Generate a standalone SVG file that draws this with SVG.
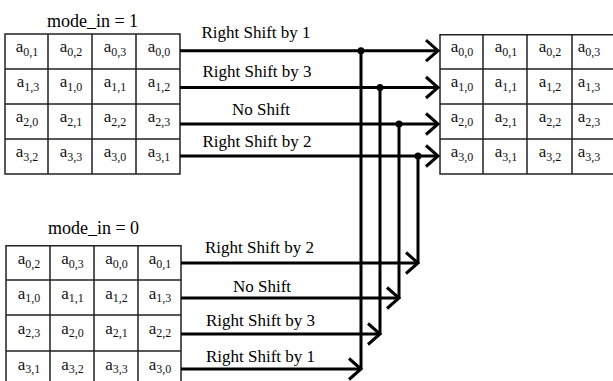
<svg xmlns="http://www.w3.org/2000/svg" width="613" height="381" viewBox="0 0 613 381">
<defs>
<style>
.bg{fill:#fff}
.grid{fill:none;stroke:#222;stroke-width:1.5}
.cell{font-family:"Liberation Serif","Times New Roman",serif;font-size:17px;fill:#111;text-anchor:middle}
.sub{font-size:12px}
.title{font-family:"Liberation Serif","Times New Roman",serif;font-size:18px;fill:#000;text-anchor:middle}
.lbl{font-family:"Liberation Serif","Times New Roman",serif;font-size:17px;fill:#000;text-anchor:middle}
.wire{fill:none;stroke:#000;stroke-width:3}
.arrow{fill:none;stroke:#000;stroke-width:3;marker-end:url(#chev)}
.dot{fill:#000}
</style>
<marker id="chev" markerUnits="userSpaceOnUse" markerWidth="20" markerHeight="28" viewBox="-4 -14 20 28" refX="12" refY="0" orient="auto">
<path d="M0,-10.5 L12,0 L0,10.5" fill="none" stroke="#000" stroke-width="3"/>
</marker>
</defs>
<rect class="bg" x="0" y="0" width="613" height="381"/>

<g id="title1"><text class="title" x="92.5" y="27">mode_in = 1</text></g>
<g id="title0"><text class="title" x="93.5" y="234">mode_in = 0</text></g>

<g id="matrix-in1">
<path class="grid" d="M5,34H180V174H5Z M5,69H180 M5,104H180 M5,139H180 M48,34V174 M92,34V174 M136,34V174"/>
<text class="cell" x="27" y="52">a<tspan class="sub" dy="3.5">0,1</tspan></text>
<text class="cell" x="71" y="52">a<tspan class="sub" dy="3.5">0,2</tspan></text>
<text class="cell" x="115" y="52">a<tspan class="sub" dy="3.5">0,3</tspan></text>
<text class="cell" x="159" y="52">a<tspan class="sub" dy="3.5">0,0</tspan></text>
<text class="cell" x="28" y="87">a<tspan class="sub" dy="3.5">1,3</tspan></text>
<text class="cell" x="71" y="87">a<tspan class="sub" dy="3.5">1,0</tspan></text>
<text class="cell" x="115" y="87">a<tspan class="sub" dy="3.5">1,1</tspan></text>
<text class="cell" x="159" y="87">a<tspan class="sub" dy="3.5">1,2</tspan></text>
<text class="cell" x="27" y="122">a<tspan class="sub" dy="3.5">2,0</tspan></text>
<text class="cell" x="71" y="122">a<tspan class="sub" dy="3.5">2,1</tspan></text>
<text class="cell" x="115" y="122">a<tspan class="sub" dy="3.5">2,2</tspan></text>
<text class="cell" x="159" y="122">a<tspan class="sub" dy="3.5">2,3</tspan></text>
<text class="cell" x="27" y="157">a<tspan class="sub" dy="3.5">3,2</tspan></text>
<text class="cell" x="71" y="157">a<tspan class="sub" dy="3.5">3,3</tspan></text>
<text class="cell" x="115" y="157">a<tspan class="sub" dy="3.5">3,0</tspan></text>
<text class="cell" x="159" y="157">a<tspan class="sub" dy="3.5">3,1</tspan></text>
</g>

<g id="matrix-in0">
<path class="grid" d="M6,245.7H181V390H6Z M6,280H181 M6,315H181 M6,351H181 M50,245.7V390 M94,245.7V390 M138,245.7V390"/>
<text class="cell" x="29" y="264">a<tspan class="sub" dy="3.5">0,2</tspan></text>
<text class="cell" x="72.5" y="264">a<tspan class="sub" dy="3.5">0,3</tspan></text>
<text class="cell" x="116.5" y="264">a<tspan class="sub" dy="3.5">0,0</tspan></text>
<text class="cell" x="160" y="264">a<tspan class="sub" dy="3.5">0,1</tspan></text>
<text class="cell" x="29" y="298.5">a<tspan class="sub" dy="3.5">1,0</tspan></text>
<text class="cell" x="72.5" y="298.5">a<tspan class="sub" dy="3.5">1,1</tspan></text>
<text class="cell" x="116.5" y="298.5">a<tspan class="sub" dy="3.5">1,2</tspan></text>
<text class="cell" x="160" y="298.5">a<tspan class="sub" dy="3.5">1,3</tspan></text>
<text class="cell" x="29" y="333.5">a<tspan class="sub" dy="3.5">2,3</tspan></text>
<text class="cell" x="72.5" y="333.5">a<tspan class="sub" dy="3.5">2,0</tspan></text>
<text class="cell" x="116.5" y="333.5">a<tspan class="sub" dy="3.5">2,1</tspan></text>
<text class="cell" x="160" y="333.5">a<tspan class="sub" dy="3.5">2,2</tspan></text>
<text class="cell" x="29" y="369.5">a<tspan class="sub" dy="3.5">3,1</tspan></text>
<text class="cell" x="72.5" y="369.5">a<tspan class="sub" dy="3.5">3,2</tspan></text>
<text class="cell" x="116.5" y="369.5">a<tspan class="sub" dy="3.5">3,3</tspan></text>
<text class="cell" x="160" y="369.5">a<tspan class="sub" dy="3.5">3,0</tspan></text>
</g>

<g id="matrix-out">
<path class="grid" d="M440,34.7H616V174H440Z M440,69H616 M440,104H616 M440,139H616 M483,34.7V174 M527,34.7V174 M572,34.7V174"/>
<text class="cell" x="462" y="52">a<tspan class="sub" dy="3.5">0,0</tspan></text>
<text class="cell" x="506" y="52">a<tspan class="sub" dy="3.5">0,1</tspan></text>
<text class="cell" x="550" y="52">a<tspan class="sub" dy="3.5">0,2</tspan></text>
<text class="cell" x="589" y="52">a<tspan class="sub" dy="3.5">0,3</tspan></text>
<text class="cell" x="462" y="87">a<tspan class="sub" dy="3.5">1,0</tspan></text>
<text class="cell" x="506" y="87">a<tspan class="sub" dy="3.5">1,1</tspan></text>
<text class="cell" x="550" y="87">a<tspan class="sub" dy="3.5">1,2</tspan></text>
<text class="cell" x="589" y="87">a<tspan class="sub" dy="3.5">1,3</tspan></text>
<text class="cell" x="462" y="122">a<tspan class="sub" dy="3.5">2,0</tspan></text>
<text class="cell" x="506" y="122">a<tspan class="sub" dy="3.5">2,1</tspan></text>
<text class="cell" x="550" y="122">a<tspan class="sub" dy="3.5">2,2</tspan></text>
<text class="cell" x="589" y="122">a<tspan class="sub" dy="3.5">2,3</tspan></text>
<text class="cell" x="462" y="157">a<tspan class="sub" dy="3.5">3,0</tspan></text>
<text class="cell" x="506" y="157">a<tspan class="sub" dy="3.5">3,1</tspan></text>
<text class="cell" x="550" y="157">a<tspan class="sub" dy="3.5">3,2</tspan></text>
<text class="cell" x="589" y="157">a<tspan class="sub" dy="3.5">3,3</tspan></text>
</g>

<g id="connectors">
<path class="arrow" d="M180,50.7H438"/>
<path class="arrow" d="M180,87.5H438"/>
<path class="arrow" d="M180,124H438"/>
<path class="arrow" d="M180,156H438"/>
<path class="wire" d="M361,50.7V369"/>
<path class="wire" d="M380,87.5V334"/>
<path class="wire" d="M399,124V298"/>
<path class="wire" d="M418,156V263"/>
<circle class="dot" cx="361" cy="50.7" r="3.5"/>
<circle class="dot" cx="380" cy="87.5" r="3.5"/>
<circle class="dot" cx="399" cy="124" r="3.5"/>
<circle class="dot" cx="418" cy="156" r="3.5"/>
<path class="arrow" d="M181,263H418"/>
<path class="arrow" d="M181,298H399"/>
<path class="arrow" d="M181,334H380"/>
<path class="arrow" d="M181,369H361"/>
</g>

<g id="labels">
<text class="lbl" x="256" y="38">Right Shift by 1</text>
<text class="lbl" x="257" y="77">Right Shift by 3</text>
<text class="lbl" x="261" y="115">No Shift</text>
<text class="lbl" x="257" y="147">Right Shift by 2</text>
<text class="lbl" x="259.5" y="253">Right Shift by 2</text>
<text class="lbl" x="262" y="292">No Shift</text>
<text class="lbl" x="260.5" y="326">Right Shift by 3</text>
<text class="lbl" x="260.5" y="362">Right Shift by 1</text>
</g>
</svg>
